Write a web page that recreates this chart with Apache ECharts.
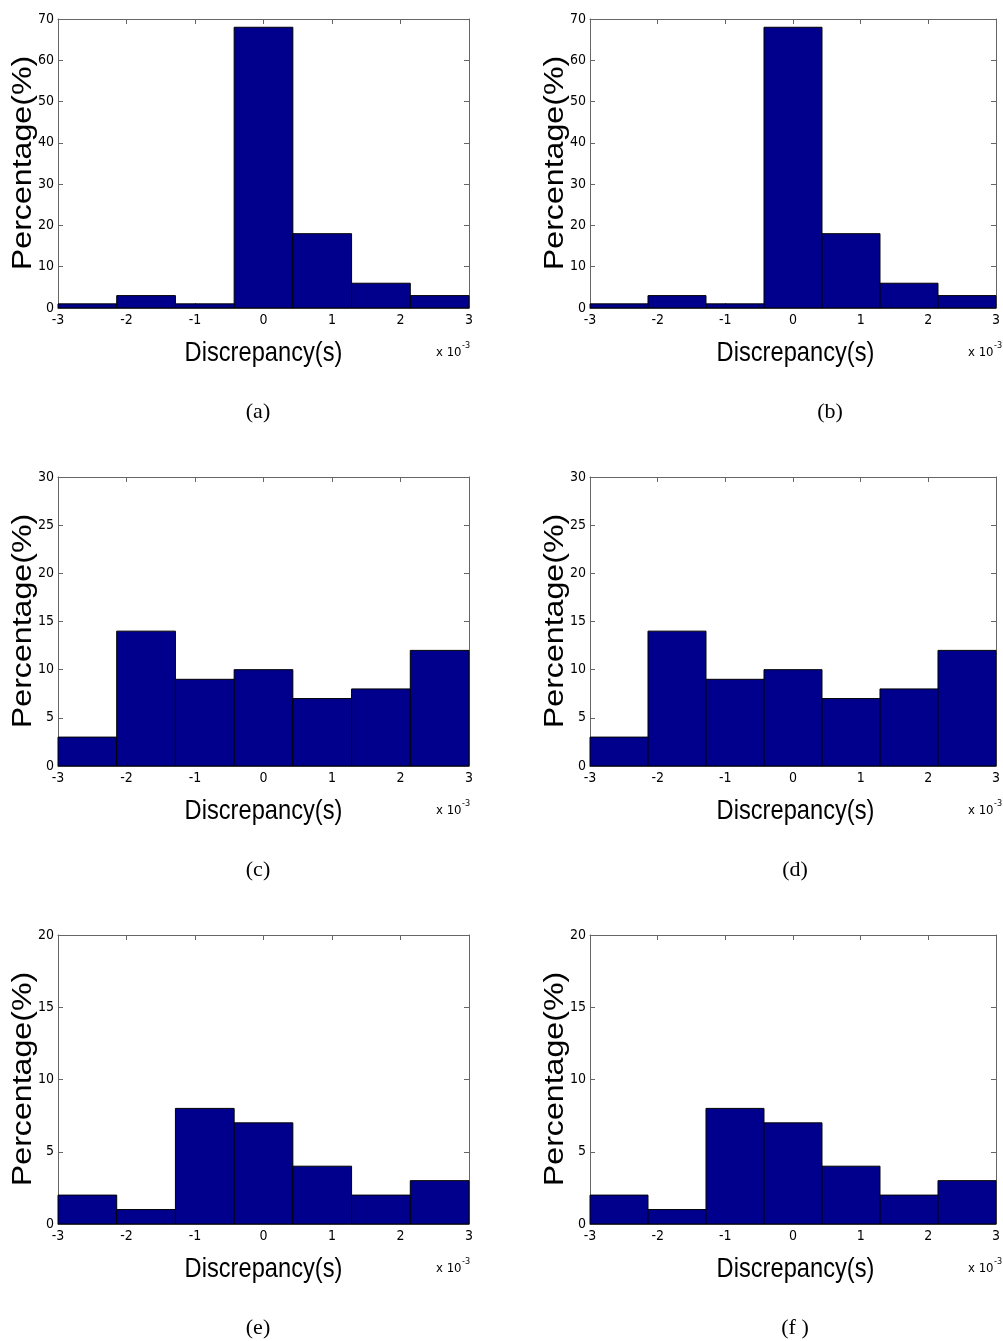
<!DOCTYPE html>
<html><head><meta charset="utf-8">
<script src="https://cdn.jsdelivr.net/npm/echarts@6/dist/echarts.min.js"></script>
<style>html,body{margin:0;padding:0;background:#fff}#c{width:1003px;height:1341px}</style>
</head><body><div id="c"></div>
<script>
// Data (percentages per bin, x in units of 1e-3 s)
const panelLabels = ['(a)','(b)','(c)','(d)','(e)','(f )'];
const valsA = [1, 3, 1, 68, 18, 6, 3];
const valsB = [1, 3, 1, 68, 18, 6, 3];
const valsC = [3, 14, 9, 10, 7, 8, 12];
const valsD = [3, 14, 9, 10, 7, 8, 12];
const valsE = [2, 1, 8, 7, 4, 2, 3];
const valsF = [2, 1, 8, 7, 4, 2, 3];
const yMaxes = [70, 70, 30, 30, 20, 20];
const yIntervals = [10, 10, 5, 5, 5, 5];
const xMin = -3, xMax = 3, nBins = 7;

const allVals = [valsA, valsB, valsC, valsD, valsE, valsF];
const binW = (xMax - xMin) / nBins;

const NARROW = "'DejaVu Sans Condensed','Liberation Sans Narrow','Arial Narrow','Liberation Sans',sans-serif";
const SANS = "'Liberation Sans',Arial,sans-serif";
const gridLefts = [58, 590];
const gridTops = [19, 477, 935];
const gw = 411, gh = 289;

const grids = [], xAxes = [], yAxes = [], series = [], graphics = [];
const captionX = [258, 830, 258, 795, 258, 795];

allVals.forEach((vals, i) => {
  const col = i % 2, row = Math.floor(i / 2);
  const left = gridLefts[col], top = gridTops[row];
  grids.push({left: left, top: top, width: gw, height: gh, containLabel: false});
  const axisLineStyle = {show: true, onZero: false, lineStyle: {color: '#666', width: 1}};
  const tick = {show: true, inside: true, length: 5, lineStyle: {color: '#666'}};
  xAxes.push({type: 'value', gridIndex: i, position: 'bottom', min: xMin, max: xMax, interval: 1,
    axisLine: axisLineStyle, axisTick: tick, splitLine: {show: false},
    axisLabel: {show: true, color: '#000', fontFamily: NARROW, fontSize: 14, margin: 5}});
  xAxes.push({type: 'value', gridIndex: i, position: 'top', min: xMin, max: xMax, interval: 1,
    axisLine: axisLineStyle, axisTick: tick, splitLine: {show: false}, axisLabel: {show: false}});
  yAxes.push({type: 'value', gridIndex: i, position: 'left', min: 0, max: yMaxes[i], interval: yIntervals[i],
    axisLine: axisLineStyle, axisTick: tick, splitLine: {show: false},
    axisLabel: {show: true, color: '#000', fontFamily: NARROW, fontSize: 14, margin: 4}});
  yAxes.push({type: 'value', gridIndex: i, position: 'right', min: 0, max: yMaxes[i], interval: yIntervals[i],
    axisLine: axisLineStyle, axisTick: tick, splitLine: {show: false}, axisLabel: {show: false}});
  const data = vals.map((v, k) => [xMin + k * binW, xMin + (k + 1) * binW, v]);
  series.push({
    type: 'custom', xAxisIndex: 2 * i, yAxisIndex: 2 * i, data: data,
    encode: {x: [0, 1], y: 2},
    z: 1,
    renderItem: function (params, api) {
      const p0 = api.coord([api.value(0), api.value(2)]);
      const p1 = api.coord([api.value(1), 0]);
      return {type: 'rect', shape: {x: p0[0], y: p0[1], width: p1[0] - p0[0], height: p1[1] - p0[1]},
        style: {fill: '#00008c', stroke: '#000', lineWidth: 1}};
    }
  });
  graphics.push({type: 'text', x: left + gw / 2, y: top + gh + 45, scaleX: 0.845, z: 10,
    style: {text: 'Discrepancy(s)', fill: '#000', font: "28px " + SANS, textAlign: 'center', textVerticalAlign: 'middle'}});
  graphics.push({type: 'text', x: left - 34, y: top + 144, rotation: Math.PI / 2, scaleX: 1.19, z: 10,
    style: {text: 'Percentage(%)', fill: '#000', font: "27px " + SANS, textAlign: 'center', textVerticalAlign: 'middle'}});
  graphics.push({type: 'text', x: left + gw - 33, y: top + gh + 45, z: 10,
    style: {text: 'x 10', fill: '#000', font: "13px " + NARROW, textAlign: 'left', textVerticalAlign: 'middle'}});
  graphics.push({type: 'text', x: left + gw - 7, y: top + gh + 38, z: 10,
    style: {text: '-3', fill: '#000', font: "9px " + NARROW, textAlign: 'left', textVerticalAlign: 'middle'}});
  graphics.push({type: 'text', x: captionX[i], y: top + gh + 104, z: 10,
    style: {text: panelLabels[i], fill: '#000', font: "22px 'Liberation Serif','Times New Roman',serif",
      textAlign: 'center', textVerticalAlign: 'middle'}});
});

const chart = echarts.init(document.getElementById('c'), null, {renderer: 'canvas'});
chart.setOption({animation: false, backgroundColor: '#fff', grid: grids, xAxis: xAxes, yAxis: yAxes,
  series: series, graphic: graphics});
</script></body></html>
